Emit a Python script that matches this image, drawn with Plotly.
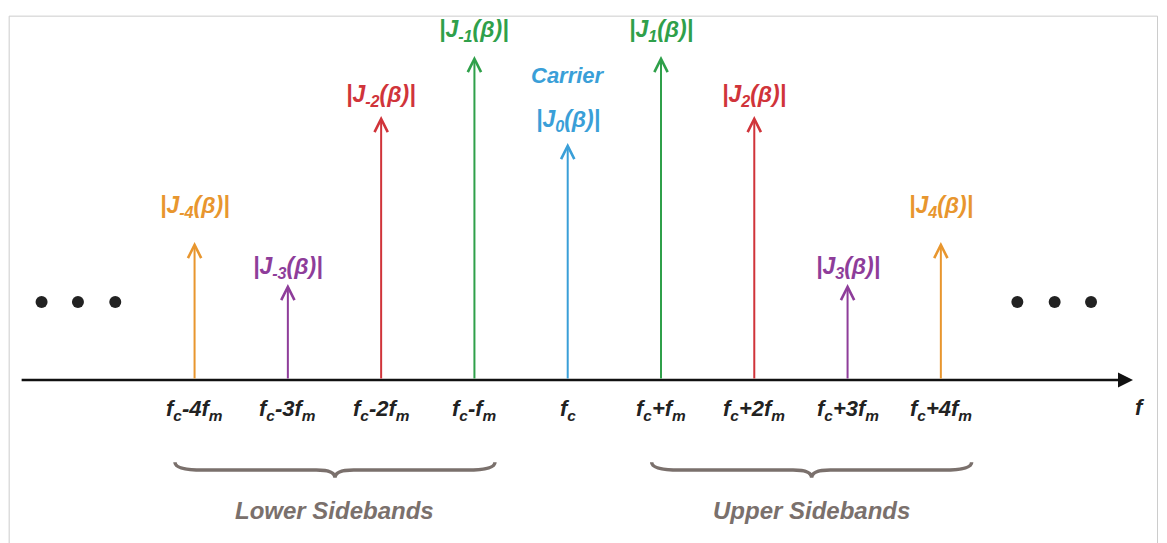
import plotly.graph_objects as go

# harmonic index, amplitude |J_n(beta)| (arbitrary units)
orders = [-4, -3, -2, -1, 0, 1, 2, 3, 4]
amps = [0.23, 0.16, 0.44, 0.54, 0.395, 0.54, 0.44, 0.16, 0.23]
colors = ['#e8962e', '#8e3d9a', '#d0343a', '#2fa04a', '#3a9fd8',
          '#2fa04a', '#d0343a', '#8e3d9a', '#e8962e']
amp_labels = ['|J<sub>-4</sub>(β)|', '|J<sub>-3</sub>(β)|', '|J<sub>-2</sub>(β)|',
              '|J<sub>-1</sub>(β)|', '|J<sub>0</sub>(β)|', '|J<sub>1</sub>(β)|',
              '|J<sub>2</sub>(β)|', '|J<sub>3</sub>(β)|', '|J<sub>4</sub>(β)|']
label_y = [0.29, 0.188, 0.475, 0.583, 0.433, 0.583, 0.475, 0.188, 0.29]
freq_labels = ['f<sub>c</sub>-4f<sub>m</sub>', 'f<sub>c</sub>-3f<sub>m</sub>',
               'f<sub>c</sub>-2f<sub>m</sub>', 'f<sub>c</sub>-f<sub>m</sub>',
               'f<sub>c</sub>', 'f<sub>c</sub>+f<sub>m</sub>',
               'f<sub>c</sub>+2f<sub>m</sub>', 'f<sub>c</sub>+3f<sub>m</sub>',
               'f<sub>c</sub>+4f<sub>m</sub>']
dots_x = [-5.64, -5.25, -4.85, 4.82, 5.22, 5.61]

FONT = "Liberation Sans"
fig = go.Figure()

fig.add_trace(go.Scatter(x=dots_x, y=[0.13] * 6, mode='markers',
                         marker=dict(color='#222', size=12), hoverinfo='skip'))

# frequency axis with arrow
fig.add_annotation(x=6.06, y=0, ax=-5.87, ay=0, xref='x', yref='y', axref='x', ayref='y',
                   text='', showarrow=True, arrowhead=2, arrowsize=1.2, arrowwidth=2.5,
                   arrowcolor='#111')
fig.add_annotation(x=6.13, y=-0.045, text='<b><i>f</i></b>', showarrow=False,
                   font=dict(family=FONT, size=22, color='#222'))

for n, a, c, lab, ly, fl in zip(orders, amps, colors, amp_labels, label_y, freq_labels):
    fig.add_annotation(x=n, y=a, ax=n, ay=0, xref='x', yref='y', axref='x', ayref='y',
                       text='', showarrow=True, arrowhead=5, arrowsize=1.3, arrowwidth=2,
                       arrowcolor=c)
    fig.add_annotation(x=n, y=ly, text='<b><i>' + lab + '</i></b>', showarrow=False,
                       font=dict(family=FONT, size=23, color=c))
    fig.add_annotation(x=n, y=-0.05, text='<b><i>' + fl + '</i></b>', showarrow=False,
                       font=dict(family=FONT, size=22, color='#222'))

fig.add_annotation(x=0, y=0.508, text='<b><i>Carrier</i></b>', showarrow=False,
                   font=dict(family=FONT, size=22, color='#3a9fd8'))


def brace(x0, x1, top=-0.137, bot=-0.163):
    m = (x0 + x1) / 2
    mid = (top + bot) / 2
    return (f'M {x0},{top} Q {x0},{mid} {x0+0.3},{mid} L {m-0.2},{mid} '
            f'Q {m},{mid} {m},{bot} Q {m},{mid} {m+0.2},{mid} L {x1-0.3},{mid} '
            f'Q {x1},{mid} {x1},{top}')


for x0, x1, name in [(-4.21, -0.78, 'Lower Sidebands'), (0.9, 4.33, 'Upper Sidebands')]:
    fig.add_shape(type='path', path=brace(x0, x1), xref='x', yref='y',
                  line=dict(color='#7a706c', width=3.5))
    fig.add_annotation(x=(x0 + x1) / 2, y=-0.217, text='<b><i>' + name + '</i></b>',
                       showarrow=False, font=dict(family=FONT, size=24, color='#7a706c'))

fig.add_shape(type='rect', xref='paper', yref='paper', x0=0.001, x1=0.985, y0=0.005, y1=0.985,
              line=dict(color='#cccccc', width=1))

fig.update_layout(
    width=1167, height=543, margin=dict(l=0, r=0, t=0, b=0),
    plot_bgcolor='white', paper_bgcolor='white', showlegend=False,
    xaxis=dict(range=[-6.0, 6.51], visible=False),
    yaxis=dict(range=[-0.285, 0.62], visible=False),
)

fig.write_html("out.html")
